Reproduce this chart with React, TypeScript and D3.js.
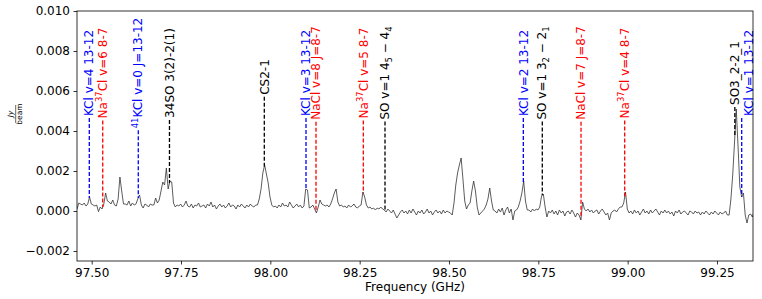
import React, { useEffect, useRef } from 'react';
import * as d3 from 'd3';

// spectrum channels: start frequency and channel width (GHz), flux in mJy/beam
const freqStart = 97.459;
const channelWidth = 0.005;
const flux = [
  0.1, 0.4, 0.35, 0.3, 0.4, 0.25, 0.35, 0.7, 0.35, 0.3,
  0.25, 0.3, -0.03, 0.2, 0.1, 0.35, 0.9, 0.5, 0.45, 0.35,
  0.55, 0.3, 0.25, 0.6, 1.7, 1.0, 0.35, 0.35, 0.3, 0.5,
  0.25, 0.4, 0.3, 0.35, 0.6, 0.8, 0.3, 0.15, 0.35, 0.3,
  0.2, 0.35, 0.3, 0.3, 0.65, 0.4, 0.55, 1.0, 1.45, 1.3,
  2.15, 1.1, 1.5, 1.45, 0.4, 0.2, 0.3, 0.25, 0.35, 0.2,
  0.3, 0.5, 0.25, 0.2, 0.35, 0.15, 0.3, 0.25, 0.4, 0.2,
  0.25, 0.3, 0.15, 0.35, 0.25, 0.45, 0.2, 0.3, 0.1, 0.25,
  0.35, 0.2, 0.3, 0.15, 0.25, 0.4, 0.2, 0.3, 0.25, 0.1,
  0.3, 0.2, 0.35, 0.25, 0.15, 0.3, 0.2, 0.35, 0.25, 0.2,
  0.3, 0.3, 0.6, 1.1, 1.9, 2.3, 1.85, 1.4, 0.7, 0.3,
  0.2, 0.25, 0.15, 0.3, 0.2, 0.4, 0.25, 0.3, 0.2, 0.45,
  0.3, 0.15, 0.25, 0.35, 0.2, 0.3, 0.15, 0.25, 1.1, 1.05,
  0.15, 0.2, 0.3, 0.1, -0.1, 0.2, 0.55, 0.35, 0.3, 0.25,
  0.3, 0.2, 0.35, 0.6, 0.9, 1.1, 0.45, 0.25, 0.3, 0.2,
  0.25, 0.15, 0.3, 0.2, 0.25, 0.35, 0.2, 0.15, 0.25, 0.3,
  0.95, 0.7, 0.3, 0.15, 0.2, 0.1, 0.15, 0.05, 0.15, 0.1,
  0.2, 0.1, 0.05, -0.05, 0.1, 0.0, -0.1, 0.05, -0.15, -0.35,
  -0.2, -0.05, 0.05, -0.1, 0.0, -0.15, 0.05, -0.1, 0.1, -0.05,
  -0.2, 0.0, -0.1, 0.05, -0.15, -0.05, 0.1, -0.1, 0.0, -0.2,
  -0.05, 0.05, -0.1, 0.0, -0.15, 0.05, -0.1, 0.0, -0.05, -0.1,
  -0.2, 0.4, 1.3, 1.9, 2.3, 2.65, 1.6, 0.5, 0.1, 0.3,
  0.4, 1.0, 1.5, 1.0, 0.2, -0.2, -0.1, 0.0, 0.1, 0.3,
  0.6, 1.15, 0.5, 0.05, 0.0, -0.1, 0.1, -0.05, 0.15, -0.2,
  0.05, 0.2, -0.1, 0.1, -0.45, 0.0, 0.05, 0.2, 0.5, 0.9,
  1.5, 0.5, 0.05, 0.05, -0.05, 0.1, 0.0, 0.1, 0.05, 0.2,
  0.75, 0.85, 0.2, -0.3, 0.0, -0.1, 0.05, -0.15, 0.0, -0.2,
  0.05, -0.1, 0.0, -0.25, -0.05, 0.0, -0.15, 0.05, -0.1, -0.3,
  -0.1, -0.2, -0.45, 0.45, 0.1, 0.0, 0.1, -0.05, 0.05, -0.1,
  0.0, 0.05, -0.15, 0.0, 0.1, -0.05, -0.2, -0.1, -0.45, -0.1,
  0.0, 0.05, -0.05, 0.1, 0.2, 0.2, 0.4, 0.95, 0.1, -0.1,
  0.0, -0.15, 0.05, -0.1, 0.0, -0.2, -0.05, 0.1, -0.1, 0.0,
  -0.15, 0.05, -0.1, 0.0, 0.1, -0.05, -0.2, 0.0, -0.1, 0.05,
  -0.1, 0.0, -0.15, -0.05, -0.25, 0.0, -0.1, 0.05, -0.15, -0.05,
  0.0, -0.1, -0.2, 0.0, -0.05, -0.15, 0.0, -0.1, -0.05, -0.2,
  -0.05, -0.15, 0.0, -0.1, -0.2, -0.05, -0.15, 0.0, -0.1, -0.2,
  -0.05, -0.15, -0.1, 0.0, -0.2, -0.2, 0.6, 1.8, 3.4, 5.1,
  3.2, 1.2, 0.7, 0.9, -0.2, -0.6, -0.2, -0.15, -0.3, 0.0,
];

// line identifications
const lineFreqs = [
  97.4933, 97.5309, 97.6304, 97.7177, 97.9831, 98.0998, 98.1278, 98.2602,
  98.3209, 98.708, 98.7611, 98.8695, 98.9917, 99.3, 99.3192,
];
const lineLabels = [
  'KCl v=4 13-12',
  'Na^{37}Cl v=6 8-7',
  '^{41}KCl v=0 J=13-12',
  '34SO 3(2)-2(1)',
  'CS2-1',
  'KCl v=3 13-12',
  'NaCl v=8 J=8-7',
  'Na^{37}Cl v=5 8-7',
  'SO v=1 4_{5} \u2212 4_{4}',
  'KCl v=2 13-12',
  'SO v=1 3_{2} \u2212 2_{1}',
  'NaCl v=7 J=8-7',
  'Na^{37}Cl v=4 8-7',
  'SO3_2-2_1',
  'KCl v=1 13-12',
];
const lineColors = [
  'blue', 'red', 'blue', 'black', 'black', 'blue', 'red', 'red',
  'black', 'blue', 'black', 'red', 'red', 'black', 'blue',
];
// label centre height (mJy/beam) and label offset from the line (GHz)
const labelLevel = [6.9, 6.9, 6.9, 6.9, 6.7, 6.9, 6.9, 6.9, 6.9, 6.9, 6.9, 6.9, 6.9, 6.9, 6.9];
const labelShift = [0, 0, 0, 0, 0, 0, 0, 0, 0, 0, 0, 0, 0, 0, 0.0205];

const xTicks = [97.5, 97.75, 98.0, 98.25, 98.5, 98.75, 99.0, 99.25];
const yTicks = [-0.002, 0, 0.002, 0.004, 0.006, 0.008, 0.01];

const W = 762, H = 299;
const FONT = 'DejaVu Sans, sans-serif';

function parseLabel(s: string) {
  const parts: { t: string; k: string }[] = [];
  s.split(/(\^\{[^}]*\}|_\{[^}]*\})/).forEach((p) => {
    if (!p) return;
    if (p.startsWith('^{')) parts.push({ t: p.slice(2, -1), k: 'sup' });
    else if (p.startsWith('_{')) parts.push({ t: p.slice(2, -1), k: 'sub' });
    else parts.push({ t: p, k: '' });
  });
  return parts;
}

function fluxAt(f: number) {
  const p = (f - freqStart) / channelWidth;
  const i = Math.max(0, Math.min(flux.length - 2, Math.floor(p)));
  const t = p - i;
  return flux[i] * (1 - t) + flux[i + 1] * t;
}

const App = () => {
  const ref = useRef<SVGSVGElement>(null);

  useEffect(() => {
    const svg = d3.select(ref.current);
    svg.selectAll('*').remove();

    const left = 77, right = 753, top = 11, bottom = 261;
    const x = d3.scaleLinear().domain([97.4589, 99.3508]).range([left, right]);
    const y = d3.scaleLinear().domain([-0.0025, 0.01]).range([bottom, top]);

    svg.append('defs').append('clipPath').attr('id', 'plotclip')
      .append('rect').attr('x', left).attr('y', top)
      .attr('width', right - left).attr('height', bottom - top);

    // spectrum
    const line = d3.line<number>()
      .x((d, i) => x(freqStart + i * channelWidth))
      .y((d) => y(d * 1e-3));
    svg.append('path')
      .datum(flux)
      .attr('clip-path', 'url(#plotclip)')
      .attr('d', line)
      .attr('fill', 'none')
      .attr('stroke', '#333')
      .attr('stroke-width', 0.8);

    // line labels + dashed markers
    const fs = 12;
    lineFreqs.forEach((f, k) => {
      const lx = x(f + labelShift[k]);
      const ly = y(labelLevel[k] * 1e-3);
      const txt = svg.append('text')
        .attr('transform', `translate(${lx},${ly}) rotate(-90)`)
        .attr('y', 0.35 * fs)
        .attr('text-anchor', 'middle')
        .attr('font-family', FONT)
        .attr('font-size', fs)
        .attr('fill', lineColors[k]);
      let shift = 0;
      parseLabel(lineLabels[k]).forEach((p) => {
        let target = 0;
        if (p.k === 'sup') target = -0.4 * fs;
        if (p.k === 'sub') target = 0.2 * fs;
        txt.append('tspan')
          .attr('dy', target - shift)
          .attr('font-size', p.k ? fs * 0.7 : fs)
          .text(p.t);
        shift = target;
      });
      const len = (txt.node() as SVGTextElement).getComputedTextLength();
      const y0 = ly + len / 2 + 2;
      const y1 = y(fluxAt(f) * 1e-3);
      if (y1 > y0) {
        svg.append('line')
          .attr('x1', x(f)).attr('x2', x(f))
          .attr('y1', y0).attr('y2', y1)
          .attr('stroke', lineColors[k])
          .attr('stroke-width', 1.3)
          .attr('stroke-dasharray', '4,2');
      }
    });

    // frame
    svg.append('rect')
      .attr('x', left).attr('y', top)
      .attr('width', right - left).attr('height', bottom - top)
      .attr('fill', 'none').attr('stroke', 'black').attr('stroke-width', 0.8);

    const xAxis = svg.append('g')
      .attr('transform', `translate(0,${bottom})`)
      .call(d3.axisBottom(x).tickValues(xTicks).tickFormat(d3.format('.2f'))
        .tickSize(3.5).tickPadding(3.5).tickSizeOuter(0));
    const yAxis = svg.append('g')
      .attr('transform', `translate(${left},0)`)
      .call(d3.axisLeft(y).tickValues(yTicks).tickFormat(d3.format('.3f'))
        .tickSize(3.5).tickPadding(3.5).tickSizeOuter(0));
    [xAxis, yAxis].forEach((a) => {
      a.select('.domain').remove();
      a.selectAll('line').attr('stroke', 'black').attr('stroke-width', 0.8);
      a.selectAll('text').attr('font-family', FONT).attr('font-size', 12).attr('fill', 'black');
    });

    // axis titles
    svg.append('text')
      .attr('x', (left + right) / 2).attr('y', 291)
      .attr('text-anchor', 'middle')
      .attr('font-family', FONT).attr('font-size', 12)
      .text('Frequency (GHz)');

    const yl = svg.append('g').attr('transform', 'translate(15.7,114) rotate(-90)');
    yl.append('text').attr('x', 0).attr('y', -2.5).attr('text-anchor', 'middle')
      .attr('font-family', FONT).attr('font-style', 'italic').attr('font-size', 7.5).text('Jy');
    yl.append('line').attr('x1', -9).attr('x2', 9).attr('y1', 0).attr('y2', 0)
      .attr('stroke', 'black').attr('stroke-width', 0.6);
    yl.append('text').attr('x', 0).attr('y', 6.5).attr('text-anchor', 'middle')
      .attr('font-family', FONT).attr('font-size', 7.5).text('beam');
  }, []);

  return (
    <svg ref={ref} width={W} height={H}
      style={{ position: 'absolute', left: 0, top: 0, background: 'white' }} />
  );
};

export default App;
